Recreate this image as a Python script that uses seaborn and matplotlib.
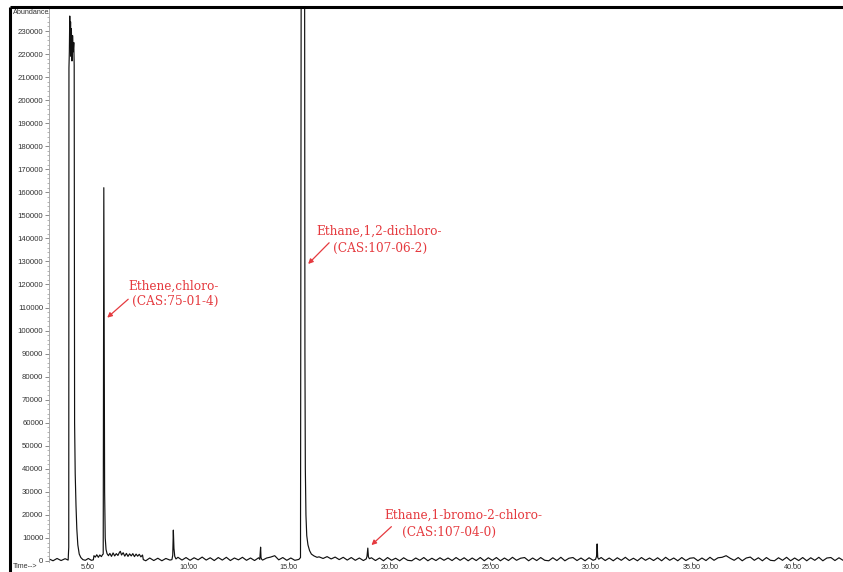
import numpy as np
import pandas as pd
import matplotlib
matplotlib.use("Agg")
import matplotlib.pyplot as plt
from matplotlib.lines import Line2D
from matplotlib.ticker import FixedLocator, MultipleLocator
import seaborn as sns

sns.set_style("white")
plt.rcParams["font.family"] = ["Liberation Sans", "DejaVu Sans"]

# Total ion chromatogram: baseline sampled every 0.2 min from 3.1 to 42.5 min
baseline_a = [
    900, 100, 1100, 200, 1000, 400, 300, 200, 500, 300,          # 3.1 min
    600, 300, 2000, 2500, 2300, 2800, 2400, 3000, 2600, 2200,    # 5.1 min
    2500, 2200, 2600, 2000, 100, 1300, 200, 1200, 100, 1100,     # 7.1 min
    400, 900, 1600, 400, 1500, 300, 1400, 500, 1700, 400,        # 9.1 min
    1400, 200, 1500, 400, 1600, 200, 1300, 500, 1600, 300,       # 11.1 min
    1300, 200, 1400, 400, 1300, 1700, 2300, 500, 1500, 300,      # 13.1 min
    1300, 300, 1500, 1500, 1500, 1500, 1500, 1800, 1100, 1900,   # 15.1 min
    900, 1700, 600, 1600, 400, 1500, 300, 1300, 200, 800,        # 17.1 min
    1400, 200, 1300, 100, 1500, 300, 1200, 100, 1400, 300,       # 19.1 min
    100, 1300, 300, 1500, 100, 1200, 200, 1400, 300, 1300,       # 21.1 min
    200, 1500, 300, 1400, 100, 1300, 200, 1500, 100, 1400,       # 23.1 min
    300, 1500, 100, 1300, 200, 1600, 300, 1200, 1500, 100,       # 25.1 min
    1300, 200, 1500, 300, 100, 1400, 200, 1600, 100, 1200,       # 27.1 min
    1500, 200, 1300, 100, 1400, 300, 700, 1500, 200, 1300,       # 29.1 min
    100, 1400, 300, 1600, 200, 1200, 100, 1500, 300, 1300,       # 31.1 min
    200, 1400, 100, 1600, 300, 1300, 100, 1500, 200, 1200,       # 33.1 min
    1400, 100, 1300, 200, 1600, 300, 1400, 1600, 2300, 1200,     # 35.1 min
    300, 1500, 100, 1300, 1700, 300, 1400, 100, 1500, 300,       # 37.1 min
    100, 1400, 300, 1600, 100, 1300, 200, 1500, 100, 1400,       # 39.1 min
    300, 1600, 100, 1300, 1500, 200, 1400, 300,                  # 41.1 min
]

# Peak profiles (retention time in min, abundance)
peak1_t = [4.05, 4.08, 4.09, 4.11, 4.13, 4.15, 4.17, 4.19, 4.21, 4.24, 4.27,
           4.30, 4.33, 4.35, 4.37, 4.40, 4.44, 4.48, 4.53, 4.60, 4.68, 4.78,
           4.90, 5.05, 5.20]
peak1_a = [400, 6000, 214000, 221000, 236500, 226000, 234000, 219000, 231000,
           217000, 228000, 221000, 225000, 215000, 60000, 38000, 24000, 14000,
           7000, 3000, 1500, 600, 300, 1100, 300]

peak2_t = [5.30, 5.33, 5.40, 5.47, 5.55, 5.62, 5.70, 5.76, 5.79, 5.82, 5.84,
           5.86, 5.89, 5.93, 5.98, 6.05, 6.12, 6.20, 6.28, 6.36, 6.44, 6.52,
           6.60, 6.64, 6.70, 6.78, 6.86, 6.94, 7.02, 7.10, 7.18, 7.26, 7.34,
           7.42, 7.50, 7.58, 7.66, 7.74, 7.78]
peak2_a = [500, 2300, 1700, 2700, 1600, 2600, 1900, 2800, 3000, 162000, 95000,
           30000, 10000, 5000, 3200, 2300, 3300, 2000, 3500, 2200, 3200, 2400,
           3800, 4200, 2600, 3600, 2100, 3300, 2000, 3100, 2200, 3200, 1900,
           3000, 2100, 2900, 1800, 2600, 600]

peak3_t = [9.20, 9.24, 9.27, 9.30, 9.34, 9.40]
peak3_a = [600, 2500, 13400, 5500, 2000, 900]

peak4_t = [13.56, 13.60, 13.62, 13.65]
peak4_a = [700, 6000, 1500, 800]

peak5_t = [15.50, 15.58, 15.62, 15.70, 15.78, 15.80, 15.82, 15.85, 15.89,
           15.95, 16.03, 16.12, 16.25, 16.40]
peak5_a = [700, 1500, 300000, 700000, 300000, 90000, 40000, 20000, 11000,
           7000, 4500, 3000, 2200, 1600]

peak6_t = [18.84, 18.88, 18.92, 18.95, 19.00]
peak6_a = [900, 2000, 5600, 1800, 1000]

peak7_t = [30.22, 30.27, 30.30, 30.33, 30.38]
peak7_a = [700, 2000, 7400, 1500, 800]

peaks = [(peak1_t, peak1_a), (peak2_t, peak2_a), (peak3_t, peak3_a),
         (peak4_t, peak4_a), (peak5_t, peak5_a), (peak6_t, peak6_a),
         (peak7_t, peak7_a)]

x_ticks = [5, 10, 15, 20, 25, 30, 35, 40]
x_tick_labels = ["5.00", "10.00", "15.00", "20.00", "25.00", "30.00", "35.00", "40.00"]
y_ticks = list(range(0, 240000, 10000))

labels = [
    ("Ethene,chloro-", "(CAS:75-01-4)"),
    ("Ethane,1,2-dichloro-", "(CAS:107-06-2)"),
    ("Ethane,1-bromo-2-chloro-", "(CAS:107-04-0)"),
]

# merge the baseline with the peak profiles
bt = np.linspace(3.1, 42.5, len(baseline_a))
ba = np.array(baseline_a, dtype=float)
keep = np.ones(len(bt), dtype=bool)
for pt, _ in peaks:
    keep &= ~((bt >= min(pt) - 1e-6) & (bt <= max(pt) + 1e-6))
times = np.concatenate([bt[keep]] + [np.array(pt) for pt, _ in peaks])
abund = np.concatenate([ba[keep]] + [np.array(pa, dtype=float) for _, pa in peaks])
order = np.argsort(times, kind="stable")
df = pd.DataFrame({"time": times[order], "abundance": abund[order]})

W, H = 843, 572
fig = plt.figure(figsize=(W / 100, H / 100), dpi=100)
ax = fig.add_axes([49 / W, (H - 561.5) / H, (W - 49) / W, (561.5 - 7) / H])

sns.lineplot(data=df, x="time", y="abundance", ax=ax, sort=False,
             estimator=None, color="#111111", linewidth=0.85)

ax.set_xlim(3.1, 42.5)
ax.set_ylim(-217, 240420)
ax.set_xlabel("")
ax.set_ylabel("")

ax.xaxis.set_major_locator(FixedLocator(x_ticks))
ax.set_xticklabels(x_tick_labels)
ax.yaxis.set_major_locator(FixedLocator(y_ticks))
ax.set_yticklabels([str(v) for v in y_ticks])
ax.yaxis.set_minor_locator(MultipleLocator(2000))

for side in ["top", "right", "bottom"]:
    ax.spines[side].set_visible(False)
ax.spines["left"].set_color("#a0a0a0")
ax.spines["left"].set_linewidth(0.6)

ax.tick_params(axis="y", which="major", direction="out", length=3, width=0.6,
               color="#777777", pad=1, labelsize=5.6, labelcolor="#333333", left=True)
ax.tick_params(axis="y", which="minor", direction="out", length=1.5, width=0.5,
               color="#999999", left=True)
ax.tick_params(axis="x", which="major", direction="out", length=2, width=0.6,
               color="#333333", pad=0, labelsize=5.2, labelcolor="#333333", bottom=True)

# outer frame
fig.add_artist(Line2D([10 / W, 1], [1 - 7 / H, 1 - 7 / H], transform=fig.transFigure,
                      color="black", linewidth=2.2, solid_capstyle="butt"))
fig.add_artist(Line2D([10 / W, 10 / W], [0, 1 - 7 / H], transform=fig.transFigure,
                      color="black", linewidth=2.2, solid_capstyle="butt"))

fig.text(13 / W, 1 - 13 / H, "Abundance", fontsize=5.2, color="#333333",
         ha="left", va="center")
fig.text(13 / W, 1 - 567 / H, "Time-->", fontsize=5.1, color="#333333",
         ha="left", va="center")

red = "#e53a3f"
serif = ["DejaVu Serif"]
# (line 1 position, line 2 position, arrow tail, arrow tip) in data units
label_pos = [
    ((7.02, 119300), (7.22, 112800), (7.03, 113600), (5.99, 105600)),
    ((16.37, 142900), (17.20, 135700), (17.00, 138100), (15.96, 128900)),
    ((19.76, 20000), (20.60, 12450), (20.09, 14900), (19.10, 6900)),
]
for (l1, l2), (p1, p2, tail, tip) in zip(labels, label_pos):
    ax.text(*p1, l1, color=red, fontsize=8.7, family=serif, ha="left", va="center")
    ax.text(*p2, l2, color=red, fontsize=8.7, family=serif, ha="left", va="center")
    ax.annotate("", xy=tip, xytext=tail,
                arrowprops=dict(arrowstyle="-|>", color=red, lw=0.9,
                                mutation_scale=7, shrinkA=0, shrinkB=0))

fig.savefig("out.png", dpi=100)
